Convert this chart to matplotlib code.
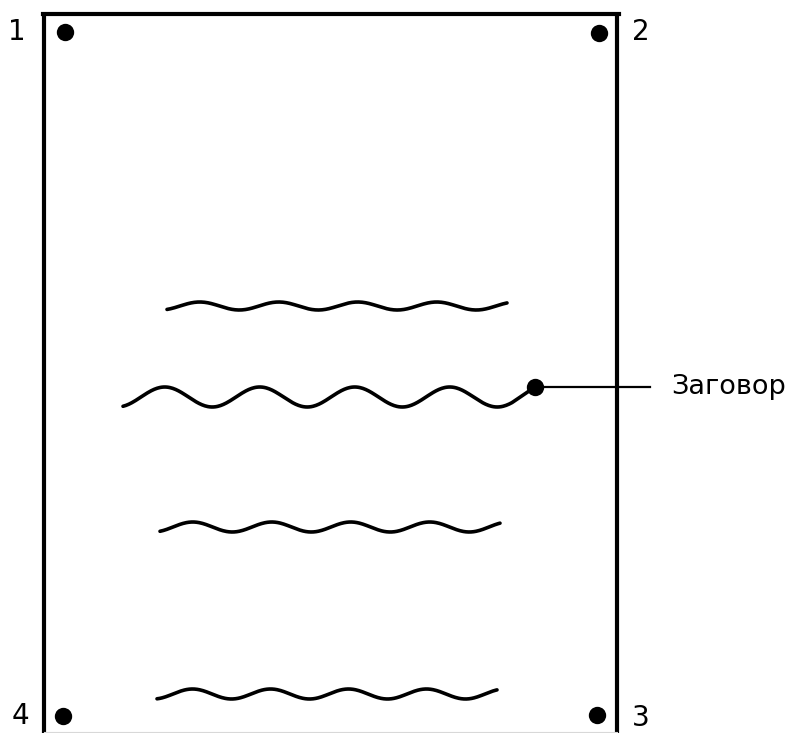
import numpy as np
import matplotlib
matplotlib.use("Agg")
import matplotlib.pyplot as plt

# ---- diagram content (pixel coordinates, y downwards) ----
corner_labels = ["1", "2", "3", "4"]
corner_label_x = [17, 641, 641, 20]
corner_label_y = [32, 32, 718, 716]
corner_dot_x = [65, 599, 597, 63]
corner_dot_y = [32, 33, 715, 716]

# wavy lines: start x, end x, centre y, amplitude, period, phase origin
wave_x_start = [167, 123, 160, 157]
wave_x_end = [507, 512, 500, 497]
wave_y_center = [306, 397, 527, 694]
wave_amp = [4, 10, 5, 5]
wave_period = [79, 95, 79, 78]
wave_x0 = [180, 141, 173, 173]

callout_text = "Заговор"
callout_dot = (535, 387)
callout_end_x = 650

W, H = 794, 733
fig = plt.figure(figsize=(W / 100, H / 100), dpi=100)
ax = fig.add_axes([0, 0, 1, 1])
ax.set_xlim(0, W)
ax.set_ylim(H, 0)
ax.axis("off")

# frame
ax.plot([44, 44], [14, H + 5], color="black", lw=3.0, solid_capstyle="butt")
ax.plot([617, 617], [14, H + 5], color="black", lw=3.0, solid_capstyle="butt")
ax.plot([42.5, 618.5], [14, 14], color="black", lw=3.0, solid_capstyle="projecting")
ax.plot([44, 617], [H - 1, H - 1], color="#d8d8d8", lw=0.8)

# corner dots and labels
ax.plot(corner_dot_x, corner_dot_y, "o", color="black", ms=12.5, mew=0)
for lab, x, y in zip(corner_labels, corner_label_x, corner_label_y):
    ax.text(x, y, lab, fontsize=20, ha="center", va="center", color="black",
            family="DejaVu Sans", fontweight="medium")

# wavy lines
for i, (xs, xe, yc, a, p, x0) in enumerate(zip(wave_x_start, wave_x_end,
                                               wave_y_center, wave_amp,
                                               wave_period, wave_x0)):
    xx = np.linspace(xs, xe, 400)
    yy = yc - a * np.sin(2 * np.pi * (xx - x0) / p)
    if i == 1:
        xx = np.append(xx, callout_dot[0])
        yy = np.append(yy, callout_dot[1])
    ax.plot(xx, yy, color="black", lw=2.6, solid_capstyle="round",
            solid_joinstyle="round")

# callout
ax.plot([callout_dot[0], callout_end_x], [callout_dot[1], callout_dot[1]],
        color="black", lw=1.6)
ax.plot([callout_dot[0]], [callout_dot[1]], "o", color="black", ms=12.5, mew=0)
ax.text(671, callout_dot[1], callout_text, fontsize=19.5, ha="left",
        va="center", color="black", family="DejaVu Sans")

fig.savefig("out.png", dpi=100)
